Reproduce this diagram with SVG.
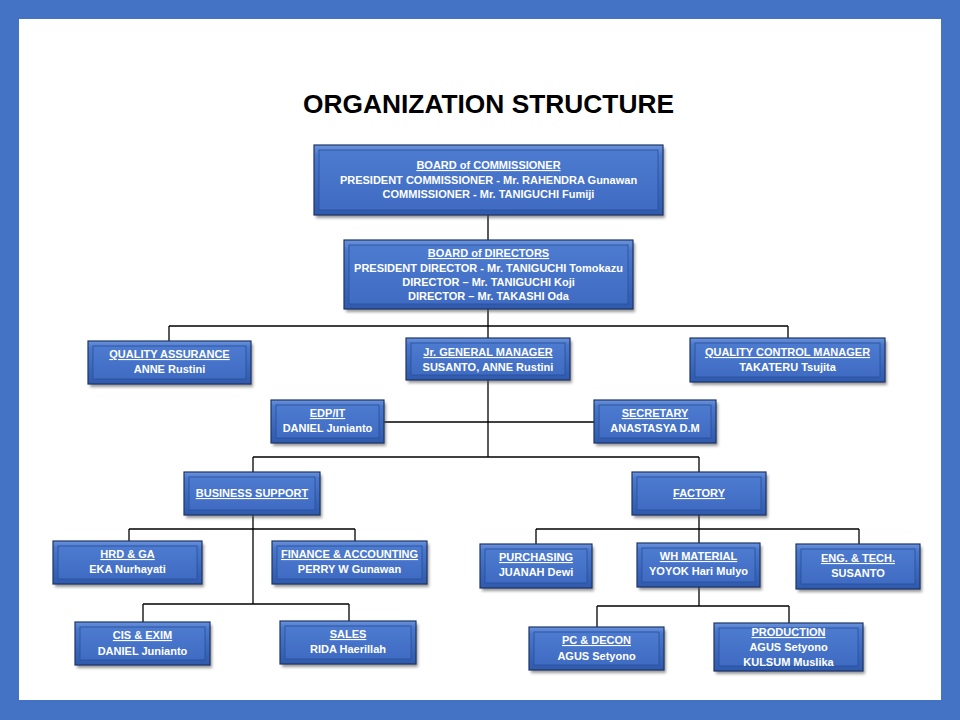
<svg xmlns="http://www.w3.org/2000/svg" width="960" height="720" viewBox="0 0 960 720">
<defs>
<linearGradient id="gOut" x1="0" y1="0" x2="0" y2="1">
<stop offset="0" stop-color="#6b93dc"/>
<stop offset="0.15" stop-color="#4a78cc"/>
<stop offset="1" stop-color="#2f5aae"/>
</linearGradient>
<linearGradient id="gIn" x1="0" y1="0" x2="0" y2="1">
<stop offset="0" stop-color="#4d7bd0"/>
<stop offset="1" stop-color="#3f6cc2"/>
</linearGradient>
<filter id="sh" x="-10%" y="-20%" width="130%" height="160%">
<feGaussianBlur stdDeviation="1.5"/>
</filter>
</defs>
<style>
.sh{fill:#555;opacity:0.6;filter:url(#sh)}
.o{fill:url(#gOut);stroke:#1d3566;stroke-width:1.2}
.i{fill:url(#gIn);stroke:#2a4f96;stroke-width:0.8}
.t{font-family:"Liberation Sans",Arial,sans-serif;font-weight:bold;font-size:11px;fill:#fff;text-anchor:middle}
.u{text-decoration:underline}
.c line{stroke:#000;stroke-width:1.3}
</style>
<rect x="0" y="0" width="960" height="720" fill="#4472c4"/>
<rect x="19" y="19" width="922" height="681" fill="#fff"/>
<text x="488.5" y="113" font-family="'Liberation Sans',Arial,sans-serif" font-weight="bold" font-size="25" text-anchor="middle" textLength="371" lengthAdjust="spacingAndGlyphs" fill="#000">ORGANIZATION STRUCTURE</text>

<g class="c" id="connectors">
<line x1="488" y1="215" x2="488" y2="240"/>
<line x1="488" y1="309" x2="488" y2="338"/>
<line x1="169" y1="326" x2="788" y2="326"/>
<line x1="169" y1="326" x2="169" y2="341"/>
<line x1="788" y1="326" x2="788" y2="338"/>
<line x1="488" y1="380" x2="488" y2="457"/>
<line x1="384" y1="422" x2="594" y2="422"/>
<line x1="253" y1="457" x2="699" y2="457"/>
<line x1="253" y1="457" x2="253" y2="472"/>
<line x1="699" y1="457" x2="699" y2="472"/>
<line x1="253" y1="515" x2="253" y2="604"/>
<line x1="129" y1="529" x2="355" y2="529"/>
<line x1="129" y1="529" x2="129" y2="541"/>
<line x1="355" y1="529" x2="355" y2="541"/>
<line x1="143" y1="604" x2="349" y2="604"/>
<line x1="143" y1="604" x2="143" y2="622"/>
<line x1="349" y1="604" x2="349" y2="621"/>
<line x1="699" y1="515" x2="699" y2="543"/>
<line x1="536" y1="529" x2="859" y2="529"/>
<line x1="536" y1="529" x2="536" y2="544"/>
<line x1="859" y1="529" x2="859" y2="544"/>
<line x1="699" y1="587" x2="699" y2="606"/>
<line x1="597" y1="606" x2="789" y2="606"/>
<line x1="597" y1="606" x2="597" y2="627"/>
<line x1="789" y1="606" x2="789" y2="623"/>
</g>

<g id="boc">
<rect class="sh" x="316" y="148" width="349" height="70"/>
<rect class="o" x="314" y="145" width="349" height="70"/>
<rect class="i" x="319" y="150" width="339" height="60"/>
<text class="t" x="488.5" y="169"><tspan class="u">BOARD of COMMISSIONER</tspan></text>
<text class="t" x="488.5" y="184">PRESIDENT COMMISSIONER - Mr. RAHENDRA Gunawan</text>
<text class="t" x="488.5" y="198">COMMISSIONER - Mr. TANIGUCHI Fumiji</text>
</g>

<g id="bod">
<rect class="sh" x="346" y="243" width="289" height="69"/>
<rect class="o" x="344" y="240" width="289" height="69"/>
<rect class="i" x="349" y="245" width="279" height="59"/>
<text class="t" x="488.5" y="257"><tspan class="u">BOARD of DIRECTORS</tspan></text>
<text class="t" x="488.5" y="272">PRESIDENT DIRECTOR - Mr. TANIGUCHI Tomokazu</text>
<text class="t" x="488.5" y="286">DIRECTOR – Mr. TANIGUCHI Koji</text>
<text class="t" x="488.5" y="300">DIRECTOR – Mr. TAKASHI Oda</text>
</g>

<g id="qa">
<rect class="sh" x="90" y="344" width="163" height="43"/>
<rect class="o" x="88" y="341" width="163" height="43"/>
<rect class="i" x="93" y="346" width="153" height="33"/>
<text class="t" x="169.5" y="358"><tspan class="u">QUALITY ASSURANCE</tspan></text>
<text class="t" x="169.5" y="373">ANNE Rustini</text>
</g>

<g id="jrgm">
<rect class="sh" x="408" y="341" width="164" height="42"/>
<rect class="o" x="406" y="338" width="164" height="42"/>
<rect class="i" x="411" y="343" width="154" height="32"/>
<text class="t" x="488" y="356"><tspan class="u">Jr. GENERAL MANAGER</tspan></text>
<text class="t" x="488" y="371">SUSANTO, ANNE Rustini</text>
</g>

<g id="qcm">
<rect class="sh" x="692" y="341" width="195" height="44"/>
<rect class="o" x="690" y="338" width="195" height="44"/>
<rect class="i" x="695" y="343" width="185" height="34"/>
<text class="t" x="787.5" y="356"><tspan class="u">QUALITY CONTROL MANAGER</tspan></text>
<text class="t" x="787.5" y="371">TAKATERU Tsujita</text>
</g>

<g id="edp">
<rect class="sh" x="273" y="403" width="113" height="43"/>
<rect class="o" x="271" y="400" width="113" height="43"/>
<rect class="i" x="276" y="405" width="103" height="33"/>
<text class="t" x="327.5" y="417"><tspan class="u">EDP/IT</tspan></text>
<text class="t" x="327.5" y="432">DANIEL Junianto</text>
</g>

<g id="secretary">
<rect class="sh" x="596" y="403" width="122" height="43"/>
<rect class="o" x="594" y="400" width="122" height="43"/>
<rect class="i" x="599" y="405" width="112" height="33"/>
<text class="t" x="655" y="417"><tspan class="u">SECRETARY</tspan></text>
<text class="t" x="655" y="432">ANASTASYA D.M</text>
</g>

<g id="bs">
<rect class="sh" x="186" y="475" width="136" height="43"/>
<rect class="o" x="184" y="472" width="136" height="43"/>
<rect class="i" x="189" y="477" width="126" height="33"/>
<text class="t" x="252" y="497"><tspan class="u">BUSINESS SUPPORT</tspan></text>
</g>

<g id="factory">
<rect class="sh" x="634" y="475" width="134" height="43"/>
<rect class="o" x="632" y="472" width="134" height="43"/>
<rect class="i" x="637" y="477" width="124" height="33"/>
<text class="t" x="699" y="497"><tspan class="u">FACTORY</tspan></text>
</g>

<g id="hrd">
<rect class="sh" x="55" y="544" width="149" height="43"/>
<rect class="o" x="53" y="541" width="149" height="43"/>
<rect class="i" x="58" y="546" width="139" height="33"/>
<text class="t" x="127.5" y="558"><tspan class="u">HRD &amp; GA</tspan></text>
<text class="t" x="127.5" y="573">EKA Nurhayati</text>
</g>

<g id="finance">
<rect class="sh" x="274" y="544" width="155" height="43"/>
<rect class="o" x="272" y="541" width="155" height="43"/>
<rect class="i" x="277" y="546" width="145" height="33"/>
<text class="t" x="349.5" y="558"><tspan class="u">FINANCE &amp; ACCOUNTING</tspan></text>
<text class="t" x="349.5" y="573">PERRY W Gunawan</text>
</g>

<g id="cis">
<rect class="sh" x="77" y="625" width="135" height="43"/>
<rect class="o" x="75" y="622" width="135" height="43"/>
<rect class="i" x="80" y="627" width="125" height="33"/>
<text class="t" x="142.5" y="639"><tspan class="u">CIS &amp; EXIM</tspan></text>
<text class="t" x="142.5" y="655">DANIEL Junianto</text>
</g>

<g id="sales">
<rect class="sh" x="282" y="624" width="136" height="43"/>
<rect class="o" x="280" y="621" width="136" height="43"/>
<rect class="i" x="285" y="626" width="126" height="33"/>
<text class="t" x="348" y="638"><tspan class="u">SALES</tspan></text>
<text class="t" x="348" y="653">RIDA Haerillah</text>
</g>

<g id="purchasing">
<rect class="sh" x="482" y="547" width="112" height="44"/>
<rect class="o" x="480" y="544" width="112" height="44"/>
<rect class="i" x="485" y="549" width="102" height="34"/>
<text class="t" x="536" y="561"><tspan class="u">PURCHASING</tspan></text>
<text class="t" x="536" y="576">JUANAH Dewi</text>
</g>

<g id="wh">
<rect class="sh" x="639" y="546" width="123" height="44"/>
<rect class="o" x="637" y="543" width="123" height="44"/>
<rect class="i" x="642" y="548" width="113" height="34"/>
<text class="t" x="698.5" y="560"><tspan class="u">WH MATERIAL</tspan></text>
<text class="t" x="698.5" y="575">YOYOK Hari Mulyo</text>
</g>

<g id="eng">
<rect class="sh" x="798" y="547" width="124" height="45"/>
<rect class="o" x="796" y="544" width="124" height="45"/>
<rect class="i" x="801" y="549" width="114" height="35"/>
<text class="t" x="858" y="562"><tspan class="u">ENG. &amp; TECH.</tspan></text>
<text class="t" x="858" y="577">SUSANTO</text>
</g>

<g id="pc">
<rect class="sh" x="531" y="630" width="135" height="43"/>
<rect class="o" x="529" y="627" width="135" height="43"/>
<rect class="i" x="534" y="632" width="125" height="33"/>
<text class="t" x="596.5" y="644"><tspan class="u">PC &amp; DECON</tspan></text>
<text class="t" x="596.5" y="660">AGUS Setyono</text>
</g>

<g id="production">
<rect class="sh" x="716" y="626" width="149" height="48"/>
<rect class="o" x="714" y="623" width="149" height="48"/>
<rect class="i" x="719" y="628" width="139" height="38"/>
<text class="t" x="788.5" y="636"><tspan class="u">PRODUCTION</tspan></text>
<text class="t" x="788.5" y="651">AGUS Setyono</text>
<text class="t" x="788.5" y="666">KULSUM Muslika</text>
</g>
</svg>
